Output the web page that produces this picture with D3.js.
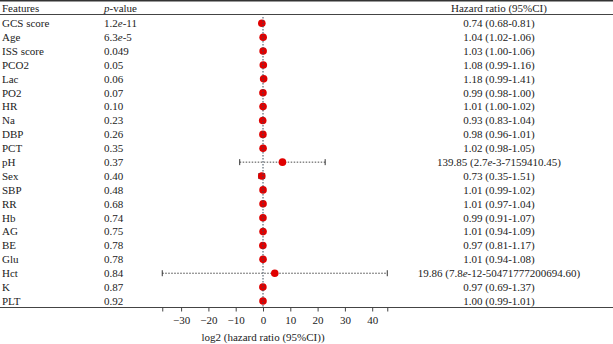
<!DOCTYPE html>
<html lang="en">
<head>
  <meta charset="UTF-8">
  <title>Forest plot</title>
  <style>
    body { margin: 0; background: #fff; }
    text { font-family: "Liberation Serif", "DejaVu Serif", serif; fill: #222; }
  </style>
</head>
<body>
<script src="https://cdn.jsdelivr.net/npm/d3@7"></script>
<div id="chart"></div>
<script>
// DATA ========================================================================
const features = ["GCS score", "Age", "ISS score", "PCO2", "Lac", "PO2", "HR", "Na", "DBP", "PCT",
  "pH", "Sex", "SBP", "RR", "Hb", "AG", "BE", "Glu", "Hct", "K", "PLT"];
const pValues = ["1.2e-11", "6.3e-5", "0.049", "0.05", "0.06", "0.07", "0.10", "0.23", "0.26", "0.35",
  "0.37", "0.40", "0.48", "0.68", "0.74", "0.75", "0.78", "0.78", "0.84", "0.87", "0.92"];
const hr = [0.74, 1.04, 1.03, 1.08, 1.18, 0.99, 1.01, 0.93, 0.98, 1.02,
  139.85, 0.73, 1.01, 1.01, 0.99, 1.01, 0.97, 1.01, 19.86, 0.97, 1.00];
const lower = [0.68, 1.02, 1.00, 0.99, 0.99, 0.98, 1.00, 0.83, 0.96, 0.98,
  2.7e-3, 0.35, 0.99, 0.97, 0.91, 0.94, 0.81, 0.94, 7.8e-12, 0.69, 0.99];
const upper = [0.81, 1.06, 1.06, 1.16, 1.41, 1.00, 1.02, 1.04, 1.01, 1.05,
  7159410.45, 1.51, 1.02, 1.04, 1.07, 1.09, 1.17, 1.08, 50471777200694.60, 1.37, 1.01];
const hrLabels = ["0.74 (0.68-0.81)", "1.04 (1.02-1.06)", "1.03 (1.00-1.06)", "1.08 (0.99-1.16)",
  "1.18 (0.99-1.41)", "0.99 (0.98-1.00)", "1.01 (1.00-1.02)", "0.93 (0.83-1.04)", "0.98 (0.96-1.01)",
  "1.02 (0.98-1.05)", "139.85 (2.7e-3-7159410.45)", "0.73 (0.35-1.51)", "1.01 (0.99-1.02)",
  "1.01 (0.97-1.04)", "0.99 (0.91-1.07)", "1.01 (0.94-1.09)", "0.97 (0.81-1.17)", "1.01 (0.94-1.08)",
  "19.86 (7.8e-12-50471777200694.60)", "0.97 (0.69-1.37)", "1.00 (0.99-1.01)"];
const xTicks = [-30, -20, -10, 0, 10, 20, 30, 40];

const rows = features.map((f, i) => ({
  feature: f, p: pValues[i], label: hrLabels[i],
  est: Math.log2(hr[i]), lo: Math.log2(lower[i]), hi: Math.log2(upper[i])
}));

// PLOT AREA ===================================================================
const W = 613, H = 344;
const svg = d3.select("#chart").append("svg")
  .attr("width", W).attr("height", H);

const x = d3.scaleLinear().domain([-40, 50]).range([153.8, 399.5]);
const y = d3.scalePoint().domain(features).range([23.3, 301]);
const axisY = 307.5;

// rules
svg.append("line").attr("x1", 0).attr("x2", W).attr("y1", 0.8).attr("y2", 0.8)
  .attr("stroke", "#333").attr("stroke-width", 1.6);
svg.append("line").attr("x1", 0).attr("x2", W).attr("y1", 14.5).attr("y2", 14.5)
  .attr("stroke", "#444").attr("stroke-width", 1);
svg.append("line").attr("x1", 0).attr("x2", W).attr("y1", axisY).attr("y2", axisY)
  .attr("stroke", "#444").attr("stroke-width", 1);

// headers
const fs = 11;
svg.append("text").attr("x", 2).attr("y", 8).attr("dy", "0.35em")
  .style("font-size", fs + "px").text("Features");
const ph = svg.append("text").attr("x", 104).attr("y", 8).attr("dy", "0.35em")
  .style("font-size", fs + "px");
ph.append("tspan").style("font-style", "italic").text("p");
ph.append("tspan").text("-value");
svg.append("text").attr("x", 499).attr("y", 8).attr("dy", "0.35em")
  .attr("text-anchor", "middle").style("font-size", fs + "px").text("Hazard ratio (95%CI)");

// write a string with italic "e" for exponents
function sciText(sel, s) {
  const parts = s.split(/(?<=\d)e(?=-)/);
  parts.forEach((p, k) => {
    if (k > 0) sel.append("tspan").style("font-style", "italic").text("e");
    sel.append("tspan").text(p);
  });
}

const rowG = svg.selectAll("g.row").data(rows).join("g").attr("class", "row");
rowG.append("text").attr("x", 2).attr("y", d => y(d.feature)).attr("dy", "0.35em")
  .style("font-size", fs + "px").text(d => d.feature);
rowG.append("text").attr("x", 104).attr("y", d => y(d.feature)).attr("dy", "0.35em")
  .style("font-size", fs + "px").each(function(d) { sciText(d3.select(this), d.p); });
rowG.append("text").attr("x", 499).attr("y", d => y(d.feature)).attr("dy", "0.35em")
  .attr("text-anchor", "middle").style("font-size", fs + "px")
  .each(function(d) { sciText(d3.select(this), d.label); });

// reference line at 0
svg.append("line").attr("x1", x(0)).attr("x2", x(0)).attr("y1", 17).attr("y2", axisY)
  .attr("stroke", "#3a4a5a").attr("stroke-width", 1).attr("stroke-dasharray", "1.5,1.5");

// CI lines and caps
rowG.append("line").attr("x1", d => x(d.lo)).attr("x2", d => x(d.hi))
  .attr("y1", d => y(d.feature)).attr("y2", d => y(d.feature))
  .attr("stroke", "#333").attr("stroke-width", 0.9).attr("stroke-dasharray", "1.5,1.5");
[["lo"], ["hi"]].forEach(([k]) => {
  rowG.append("line").attr("x1", d => x(d[k])).attr("x2", d => x(d[k]))
    .attr("y1", d => y(d.feature) - 3).attr("y2", d => y(d.feature) + 3)
    .attr("stroke", "#333").attr("stroke-width", 1);
});

// points
rowG.append("circle").attr("cx", d => x(d.est)).attr("cy", d => y(d.feature))
  .attr("r", 3.8).attr("fill", "#e00000");

// AXIS ========================================================================
const loMin = d3.min(rows, d => d.lo), hiMax = d3.max(rows, d => d.hi);
const axis = d3.axisBottom(x)
  .tickValues([loMin, ...xTicks, hiMax])
  .tickSize(4).tickPadding(5)
  .tickFormat(v => xTicks.includes(v) ? d3.format("")(v).replace("-", "\u2212") : "");
const ag = svg.append("g").attr("transform", `translate(0,${axisY})`).call(axis);
ag.select(".domain").remove();
ag.selectAll(".tick line").attr("stroke", "#444");
ag.selectAll(".tick text").style("font-size", fs + "px")
  .style("font-family", "'Liberation Serif', serif").attr("fill", "#222");

svg.append("text").attr("x", x(0)).attr("y", 337).attr("dy", "0.35em")
  .attr("text-anchor", "middle").style("font-size", fs + "px").text("log2 (hazard ratio (95%CI))");
</script>
</body>
</html>
